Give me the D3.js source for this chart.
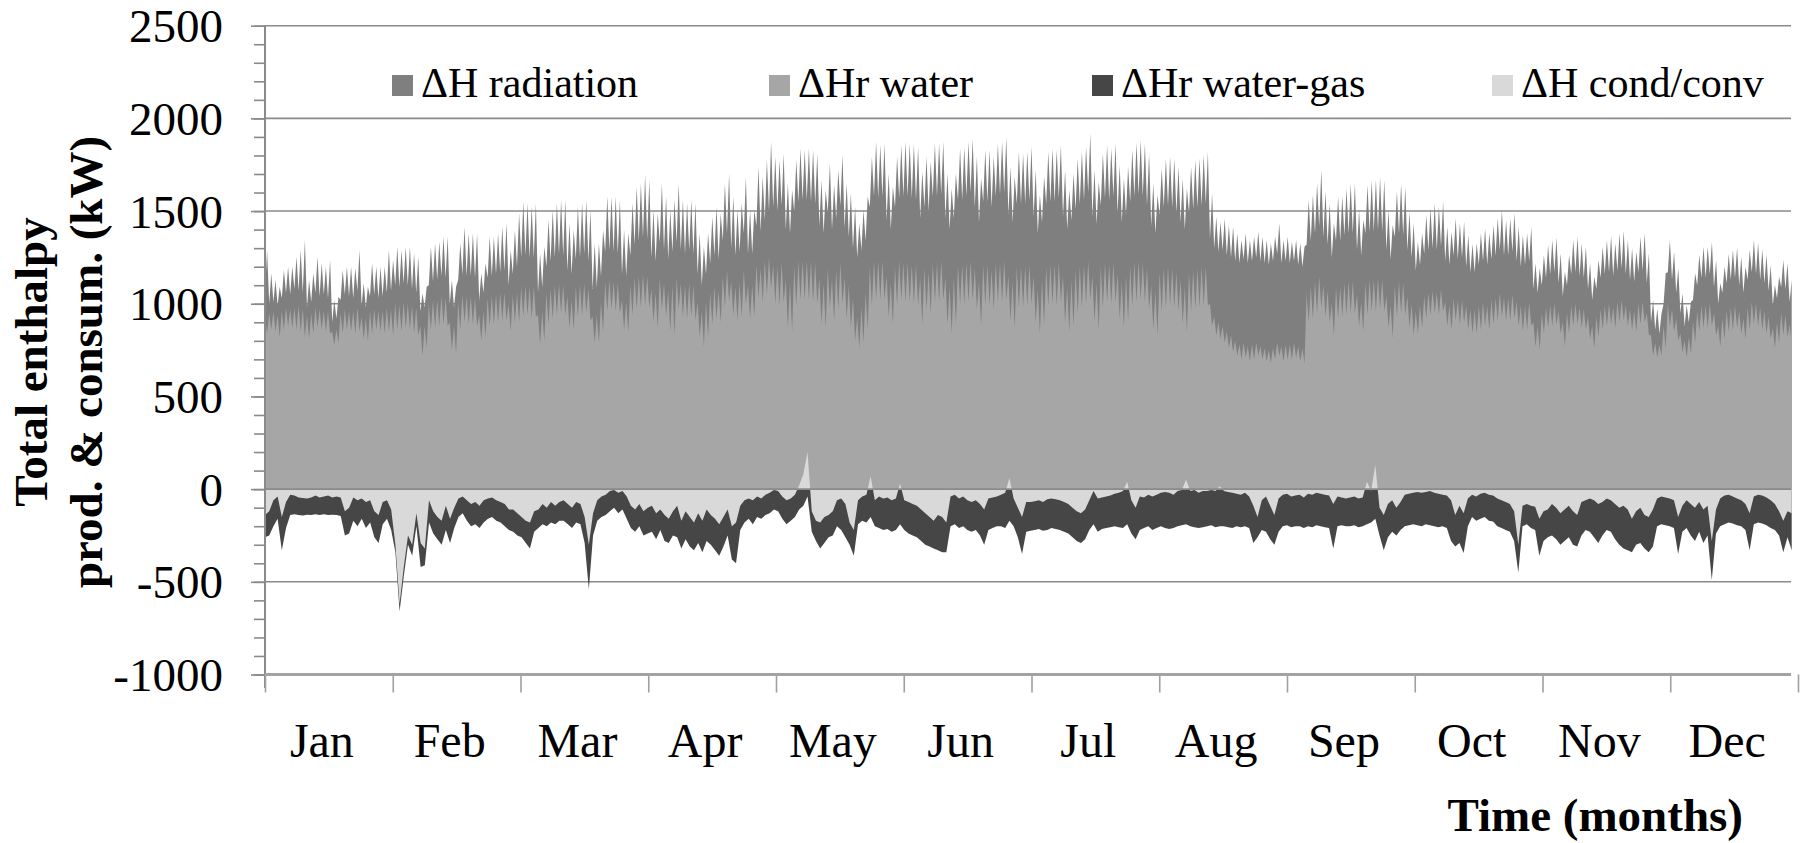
<!DOCTYPE html>
<html>
<head>
<meta charset="utf-8">
<script src="https://cdn.jsdelivr.net/npm/d3@7"></script>
<style>
  html, body { margin: 0; padding: 0; background: #fff; }
  svg { display: block; }
  text { font-family: "Liberation Serif", "Times New Roman", serif; fill: #000; }
</style>
</head>
<body>
<svg id="chart" width="1808" height="843"></svg>
<script>
// category labels of the time axis
const months = ['Jan', 'Feb', 'Mar', 'Apr', 'May', 'Jun', 'Jul', 'Aug', 'Sep', 'Oct', 'Nov', 'Dec'];
// value axis ticks (kW)
const yTicks = [-1000, -500, 0, 500, 1000, 1500, 2000, 2500];
const seriesNames = ['\u0394H radiation', '\u0394Hr water', '\u0394Hr water-gas', '\u0394H cond/conv'];

// ΔH radiation, daily midday peak (kW), one row per 30 days block
const radiationPeak = [
  1290,1164,1128,1092,1182,1200,1200,1254,1290,1344,1128,1164,1254,1218,1200,1236,1020,1038,1182,1200,1200,1191,1290,1110,1092,1218,1200,1200,1200,1290,1236,
  1308,1290,1308,1308,1272,1254,1056,1092,1308,1326,1335,1362,1362,1128,1092,1326,1416,1380,1380,1380,1164,1218,1362,1362,1380,1416,1434,1290,1398,
  1488,1551,1542,1524,1542,1272,1308,1452,1506,1542,1560,1560,1434,1398,1524,1542,1560,1506,1326,1326,1398,1578,1578,1578,1560,1398,1380,1542,1631,1649,1694,
  1667,1506,1488,1649,1578,1506,1560,1649,1560,1542,1560,1542,1380,1308,1380,1470,1524,1488,1649,1703,1578,1506,1542,1685,1506,1506,1739,1685,1775,1874,
  1793,1775,1811,1649,1614,1775,1838,1829,1838,1829,1811,1667,1614,1757,1640,1721,1802,1649,1596,1524,1434,1506,1578,1793,1874,1856,1865,1703,1631,1793,1856,
  1874,1865,1862,1847,1712,1793,1766,1865,1865,1874,1703,1622,1703,1838,1844,1874,1892,1793,1676,1829,1829,1793,1865,1874,1901,1739,1685,1820,1811,1820,
  1847,1721,1587,1685,1820,1838,1829,1856,1721,1614,1703,1784,1820,1847,1919,1721,1658,1811,1856,1838,1865,1748,1676,1739,1829,1869,1883,1865,1811,1649,1587,
  1730,1784,1793,1784,1739,1676,1622,1739,1775,1784,1802,1820,1596,1470,1443,1461,1425,1416,1380,1344,1380,1344,1362,1389,1362,1344,1326,1362,1434,1344,1362,
  1335,1344,1326,1308,1560,1587,1649,1721,1605,1542,1434,1578,1578,1622,1649,1649,1506,1452,1641,1667,1671,1682,1667,1506,1425,1605,1646,1631,1497,1434,
  1335,1380,1479,1515,1542,1524,1551,1416,1389,1461,1434,1443,1371,1322,1326,1380,1407,1380,1425,1461,1506,1452,1461,1488,1416,1371,1380,1416,1218,1191,
  1263,1317,1344,1358,1272,1173,1263,1344,1362,1326,1308,1218,1146,1236,1308,1344,1365,1326,1380,1394,1344,1299,1281,1362,1383,1272,1020,975,948,1164,
  1344,1281,1191,1056,993,1011,1164,1263,1308,1308,1335,1236,1110,1200,1268,1290,1304,1254,1200,1290,1344,1329,1294,1263,1209,1101,1146,1236,1218,1128
];
// ΔH radiation, daily night low (kW)
const radiationLow = [
  1060,1000,1010,990,1030,1060,1050,1080,1070,1060,980,1010,1060,1040,1050,1030,900,920,1020,1050,1040,1030,1070,990,980,1040,1050,1030,1040,1060,1070,
  1100,1090,1110,1100,1080,1060,960,980,1100,1120,1130,1150,1140,1000,980,1130,1160,1150,1150,1140,1020,1060,1140,1150,1160,1170,1180,1100,1160,
  1200,1250,1260,1250,1250,1060,1090,1200,1230,1250,1270,1260,1180,1160,1240,1250,1270,1230,1080,1090,1150,1280,1290,1280,1270,1160,1150,1260,1320,1340,1360,
  1350,1250,1230,1330,1290,1240,1280,1330,1290,1270,1290,1270,1160,1100,1160,1220,1260,1240,1340,1380,1300,1260,1280,1380,1270,1270,1420,1390,1450,1500,
  1520,1500,1530,1400,1380,1500,1550,1560,1560,1550,1540,1420,1380,1490,1400,1460,1530,1410,1360,1300,1250,1290,1340,1520,1580,1570,1580,1450,1400,1520,1570,
  1580,1580,1570,1560,1460,1520,1500,1580,1580,1590,1460,1400,1460,1560,1560,1580,1600,1520,1440,1550,1550,1520,1580,1590,1600,1480,1440,1540,1540,1540,
  1560,1470,1380,1440,1540,1550,1550,1570,1470,1400,1450,1510,1540,1560,1600,1470,1430,1530,1570,1560,1580,1490,1440,1480,1550,1580,1590,1580,1530,1420,1380,
  1480,1520,1530,1520,1490,1440,1400,1490,1510,1520,1530,1540,1350,1300,1280,1290,1260,1250,1230,1220,1240,1220,1230,1250,1230,1220,1210,1230,1270,1220,1230,
  1220,1230,1210,1200,1320,1340,1380,1420,1360,1320,1250,1340,1340,1370,1380,1380,1290,1260,1380,1390,1390,1400,1390,1290,1240,1360,1380,1370,1290,1250,
  1180,1210,1270,1290,1300,1290,1310,1230,1210,1260,1240,1250,1200,1170,1170,1210,1230,1210,1240,1260,1290,1260,1260,1280,1230,1200,1210,1230,1080,1060,
  1100,1140,1160,1170,1110,1040,1100,1160,1170,1150,1140,1080,1020,1080,1140,1160,1170,1150,1180,1190,1160,1130,1120,1170,1180,1110,900,860,840,1000,
  1170,1130,1060,950,880,900,1020,1100,1140,1140,1160,1090,1000,1060,1110,1130,1140,1100,1060,1130,1170,1160,1130,1110,1070,990,1030,1090,1080,1010
];
// ΔHr water, daily night level (kW)
const waterNight = [
  930,950,960,940,960,980,970,980,990,970,940,950,980,970,960,960,850,860,950,970,960,960,980,930,920,960,970,960,960,980,970,
  1000,990,1010,1000,990,980,880,880,1000,1020,1020,1040,1030,900,880,1010,1050,1040,1040,1030,940,960,1030,1040,1050,1060,1060,1000,1050,
  1060,1090,1100,1090,1090,940,960,1060,1080,1100,1110,1100,1040,1020,1090,1100,1110,1080,930,940,1010,1120,1130,1120,1110,1020,1010,1100,1140,1150,1160,
  1150,1080,1060,1140,1110,1070,1100,1140,1110,1100,1110,1100,1010,960,1010,1060,1090,1070,1150,1180,1120,1090,1110,1180,1100,1100,1210,1190,1230,1250,
  1210,1200,1220,1130,1110,1200,1230,1230,1230,1230,1220,1140,1110,1190,1130,1180,1220,1140,1100,1030,930,980,1060,1200,1230,1230,1230,1150,1110,1200,1230,
  1220,1220,1210,1210,1140,1190,1170,1220,1220,1230,1140,1090,1140,1210,1210,1220,1230,1190,1120,1210,1210,1180,1220,1220,1230,1150,1120,1200,1200,1200,
  1210,1150,1080,1130,1200,1210,1210,1220,1150,1090,1130,1180,1200,1210,1230,1150,1110,1200,1220,1210,1220,1160,1120,1150,1200,1220,1230,1220,1190,1100,1070,
  1170,1190,1200,1190,1170,1130,1090,1170,1180,1190,1200,1200,1000,930,900,880,850,830,800,780,790,770,780,790,770,760,750,760,790,770,780,
  780,790,770,760,1060,1090,1120,1150,1100,1070,1000,1090,1090,1110,1120,1120,1050,1010,1110,1130,1130,1140,1130,1040,990,1100,1120,1110,1040,1000,
  960,990,1040,1060,1070,1060,1080,1010,990,1030,1020,1020,990,970,970,990,1010,990,1020,1030,1060,1030,1030,1050,1010,990,990,1010,900,880,
  950,980,990,1000,960,900,950,990,1000,980,970,930,880,930,970,990,1000,980,1010,1020,990,970,960,1000,1010,950,830,790,780,880,
  1000,970,920,840,800,820,900,960,990,990,1000,950,880,920,960,980,990,960,920,980,1010,1000,980,960,930,870,900,950,940,890
];
// ΔHr water, daily midday dip (kW)
const waterMidday = [
  840,860,850,820,860,880,870,860,850,820,810,840,870,860,850,840,780,790,840,860,850,840,850,810,800,840,860,850,840,850,830,
  860,850,870,860,840,830,720,760,860,870,880,890,880,750,730,860,900,890,890,880,800,820,880,890,900,910,910,850,900,
  900,930,940,920,930,780,800,890,920,940,950,940,870,860,930,940,950,910,790,790,850,960,970,960,950,860,850,940,970,980,990,
  980,900,870,970,930,850,830,970,930,920,930,910,820,770,820,890,920,900,980,1010,940,910,930,1000,920,930,1030,1010,1050,1080,
  1000,990,1010,870,850,990,1020,1020,1020,1010,1000,890,870,980,910,970,1000,920,870,800,760,790,860,990,1020,1020,1020,930,890,990,1020,
  1010,1010,1000,990,890,970,950,1010,1010,1020,890,840,890,1000,1000,1010,1020,970,880,990,990,970,1010,1010,1020,910,870,980,980,990,
  1000,900,840,890,990,1000,990,1010,900,850,880,950,980,1000,1020,900,860,980,1010,1000,1010,920,870,910,990,1010,1020,1010,970,860,830,
  960,980,990,980,960,890,850,960,970,980,990,990,880,830,810,790,760,740,720,700,710,690,700,720,700,690,680,700,720,690,700,
  700,710,690,680,900,920,950,980,930,900,830,920,930,940,950,950,880,850,940,960,960,970,960,870,820,930,950,940,870,830,
  840,870,920,940,950,940,960,880,860,910,890,900,860,840,840,860,880,860,890,910,930,910,910,920,880,850,860,880,770,750,
  840,870,880,890,840,770,840,880,890,870,860,810,760,820,860,880,890,870,900,910,880,860,850,890,900,830,720,710,720,760,
  880,850,800,740,710,730,790,850,870,870,880,830,770,810,850,860,870,840,810,860,890,880,860,840,810,760,790,830,820,780
];
// ΔHr water-gas, daily value (kW)
const waterGas = [
  -260,-250,-200,-160,-330,-210,-140,-135,-140,-142,-138,-140,-135,-140,-135,-140,-138,-140,-145,-250,-240,-170,-200,-160,-210,-180,-260,-290,-190,-160,-220,
  -340,-660,-470,-300,-360,-200,-420,-410,-180,-240,-270,-300,-220,-290,-210,-150,-130,-170,-200,-190,-210,-180,-160,-150,-170,-180,-200,-220,-230,
  -250,-260,-290,-320,-230,-210,-190,-200,-180,-190,-170,-170,-190,-210,-180,-190,-290,-540,-250,-170,-150,-140,-120,-100,-130,-110,-160,-210,-230,-200,-250,
  -240,-230,-270,-220,-280,-290,-250,-260,-320,-270,-310,-330,-290,-340,-280,-300,-330,-360,-310,-250,-380,-400,-220,-180,-160,-190,-150,-160,-140,-130,
  -110,-120,-160,-190,-170,-150,-110,-90,-40,-230,-280,-320,-290,-260,-250,-200,-220,-260,-300,-360,-190,-170,-180,-150,-200,-210,-220,-215,-230,-220,-190,
  -220,-240,-250,-260,-280,-300,-310,-320,-330,-340,-340,-200,-190,-210,-200,-220,-230,-220,-250,-300,-220,-210,-200,-200,-210,-170,-200,-260,-350,-230,
  -225,-220,-215,-225,-220,-210,-215,-220,-230,-240,-260,-280,-290,-270,-220,-190,-230,-215,-210,-205,-200,-205,-210,-190,-240,-270,-220,-210,-200,-220,-210,
  -200,-210,-215,-210,-200,-195,-190,-200,-205,-210,-205,-200,-195,-205,-200,-200,-205,-210,-200,-205,-200,-210,-290,-260,-220,-230,-270,-300,-230,-200,-195,
  -205,-200,-200,-210,-200,-205,-195,-200,-205,-210,-320,-200,-195,-200,-200,-195,-205,-200,-190,-180,-160,-250,-330,-260,-230,-250,-220,-200,-195,-190,
  -195,-200,-190,-195,-200,-205,-200,-210,-280,-310,-290,-345,-200,-150,-170,-160,-150,-170,-175,-200,-210,-220,-230,-280,-450,-200,-190,-210,-220,-360,
  -280,-260,-250,-270,-300,-280,-260,-300,-310,-250,-220,-230,-260,-290,-250,-220,-230,-270,-300,-320,-330,-340,-300,-290,-320,-340,-310,-200,-190,-195,
  -200,-210,-350,-230,-210,-250,-280,-230,-290,-250,-490,-240,-200,-190,-180,-185,-195,-200,-220,-330,-190,-180,-185,-195,-210,-220,-250,-340,-260,-330
];
// ΔH cond/conv, daily value (kW)
const condConv = [
  -140,-120,-60,-40,-150,-70,-30,-35,-45,-48,-50,-45,-35,-45,-40,-35,-45,-40,-45,-120,-100,-45,-60,-50,-70,-60,-120,-140,-70,-60,-110,
  -300,-620,-420,-250,-300,-130,-290,-320,-60,-120,-150,-170,-90,-160,-100,-50,-40,-60,-80,-70,-90,-60,-50,-45,-60,-70,-80,-110,-110,
  -130,-150,-170,-180,-120,-110,-80,-100,-70,-90,-70,-60,-80,-100,-70,-80,-150,-300,-130,-60,-40,-30,-10,-5,-20,-10,-40,-90,-110,-80,-120,
  -100,-90,-130,-110,-140,-160,-120,-90,-170,-120,-150,-180,-130,-170,-110,-140,-160,-190,-150,-110,-200,-180,-90,-60,-50,-60,-40,-50,-30,-20,
  -5,-10,-40,-60,-50,-30,20,80,200,-120,-170,-180,-150,-140,-120,-60,-50,-80,-180,-220,-60,-40,-30,70,-60,-40,-50,-45,-60,-50,30,
  -60,-70,-80,-90,-110,-130,-150,-170,-140,-150,-180,-40,-30,-50,-40,-60,-70,-60,-80,-110,-50,-45,-40,-30,-20,60,-50,-100,-150,-70,
  -70,-65,-60,-70,-55,-50,-55,-60,-70,-80,-100,-120,-130,-110,-60,-10,-50,-45,-40,-35,-25,-20,-10,40,-60,-100,-40,-45,-30,-40,-30,
  -20,-15,-20,-30,-10,-5,50,-10,-5,-20,-10,-10,-5,-10,15,-10,-15,-20,-25,-30,-20,-40,-90,-150,-60,-40,-90,-140,-50,-30,-25,
  -40,-35,-30,-45,-25,-30,-20,-25,-30,-35,-80,-40,-45,-50,-45,-40,-50,-45,40,-10,130,-100,-140,-80,-60,-100,-70,-30,-25,-20,
  -15,-20,-15,-10,-20,-25,-30,-35,-60,-140,-90,-130,-50,-30,-40,-25,-20,-30,-35,-50,-60,-70,-80,-120,-300,-90,-80,-90,-95,-160,
  -120,-110,-80,-100,-130,-110,-90,-120,-140,-70,-60,-50,-60,-80,-70,-50,-60,-80,-100,-90,-110,-160,-120,-100,-140,-150,-110,-50,-40,-45,
  -50,-60,-150,-90,-60,-80,-100,-70,-110,-90,-280,-110,-50,-35,-30,-40,-50,-60,-80,-130,-40,-30,-35,-45,-60,-80,-120,-170,-120,-130
];

const colors = ['#7f7f7f', '#a6a6a6', '#464646', '#d9d9d9'];
const gridColor = '#8a8a8a';
const serif = '"Liberation Serif", "Times New Roman", serif';

const svg = d3.select('#chart');
svg.append('rect').attr('width', 1808).attr('height', 843).attr('fill', '#fff');

// plot area
const left = 265, right = 1791;
const x = d3.scaleLinear().domain([0, 365]).range([265, 1798]);     // days of the year
const monthScale = d3.scaleLinear().domain([0, 12]).range([265, 1798]);
const y = d3.scaleLinear().domain([-1000, 2500]).range([674.5, 25.7]);

// horizontal gridlines (behind the data)
svg.append('g').selectAll('line')
  .data(yTicks.filter(v => v !== -1000))
  .join('line')
  .attr('x1', left).attr('x2', right)
  .attr('y1', d => y(d)).attr('y2', d => y(d))
  .attr('stroke', gridColor).attr('stroke-width', 1.6);

// build the series points: night value at day start, midday value half a day later
const days = d3.range(radiationPeak.length);
const radiationPts = days.flatMap(d => [[d, radiationLow[d]], [d + 0.5, radiationPeak[d]]]);
const waterPts = days.flatMap(d => [[d, waterNight[d]], [d + 0.5, waterMidday[d]]]);
const xDaily = d3.scaleLinear().domain([0, days.length - 1]).range([x(0), x(days.length - 0.5)]);

const areaTwice = d3.area()
  .x(p => x(p[0]))
  .y0(y(0))
  .y1(p => y(p[1]));
const areaDaily = d3.area()
  .x((v, i) => xDaily(i))
  .y0(y(0))
  .y1(v => y(v));

const plot = svg.append('g');
plot.append('path').datum(radiationPts).attr('d', areaTwice).attr('fill', colors[0]);
plot.append('path').datum(waterPts).attr('d', areaTwice).attr('fill', colors[1]);
plot.append('path').datum(waterGas).attr('d', areaDaily).attr('fill', colors[2]);
plot.append('path').datum(condConv).attr('d', areaDaily).attr('fill', colors[3]);

// zero line stays visible over the areas
svg.append('line')
  .attr('x1', left).attr('x2', right)
  .attr('y1', y(0)).attr('y2', y(0))
  .attr('stroke', gridColor).attr('stroke-width', 1.6);

// y axis: minor ticks every 100, major ticks with labels every 500
const yMinor = svg.append('g')
  .attr('transform', `translate(${left},0)`)
  .call(d3.axisLeft(y).tickValues(d3.range(-1000, 2501, 100)).tickSize(11).tickFormat(''));
yMinor.select('.domain').remove();
yMinor.selectAll('line').attr('stroke', gridColor).attr('stroke-width', 1.6);

const yAxis = svg.append('g')
  .attr('transform', `translate(${left},0)`)
  .call(d3.axisLeft(y).tickValues(yTicks).tickSize(14).tickPadding(28).tickFormat(d => String(d)));
yAxis.select('.domain').remove();
yAxis.selectAll('line').attr('stroke', gridColor).attr('stroke-width', 1.6);
yAxis.selectAll('text')
  .attr('font-family', serif)
  .attr('font-size', 47)
  .attr('fill', '#000')
  .attr('dy', '0.34em');

// vertical axis line
svg.append('line')
  .attr('x1', left).attr('x2', left)
  .attr('y1', y(2500)).attr('y2', 688)
  .attr('stroke', gridColor).attr('stroke-width', 2);

// x axis at the bottom of the plot (-1000) with month ticks
const xAxis = svg.append('g')
  .attr('transform', `translate(0,${y(-1000)})`)
  .call(d3.axisBottom(monthScale).tickValues(d3.range(13)).tickSize(18).tickFormat(''));
xAxis.select('.domain').remove();
xAxis.selectAll('line').attr('stroke', '#a0a0a0').attr('stroke-width', 1.6);
svg.append('line')
  .attr('x1', left).attr('x2', right)
  .attr('y1', y(-1000)).attr('y2', y(-1000))
  .attr('stroke', '#a3a3a3').attr('stroke-width', 3);

svg.append('g').selectAll('text')
  .data(months)
  .join('text')
  .attr('x', (m, i) => monthScale(i + 0.5) - 7)
  .attr('y', 757)
  .attr('text-anchor', 'middle')
  .attr('font-family', serif)
  .attr('font-size', 48)
  .text(m => m);

// axis titles
svg.append('text')
  .attr('x', 1743).attr('y', 831)
  .attr('text-anchor', 'end')
  .attr('font-family', serif)
  .attr('font-size', 47)
  .attr('font-weight', 'bold')
  .text('Time (months)');

const yTitle = svg.append('text')
  .attr('transform', 'translate(0,362) rotate(-90)')
  .attr('text-anchor', 'middle')
  .attr('font-family', serif)
  .attr('font-size', 47)
  .attr('font-weight', 'bold');
yTitle.append('tspan').attr('x', 0).attr('y', 47).text('Total enthalpy');
yTitle.append('tspan').attr('x', 0).attr('y', 102).text('prod. & consum. (kW)');

// legend
const legendX = [392, 769, 1092, 1492];
const legend = svg.append('g').selectAll('g')
  .data(seriesNames)
  .join('g')
  .attr('transform', (n, i) => `translate(${legendX[i]},0)`);
legend.append('rect')
  .attr('x', 0).attr('y', 75)
  .attr('width', 21).attr('height', 21)
  .attr('fill', (n, i) => colors[i]);
legend.append('text')
  .attr('x', 29).attr('y', 97)
  .attr('font-family', serif)
  .attr('font-size', 42)
  .text(n => n);
</script>
</body>
</html>
